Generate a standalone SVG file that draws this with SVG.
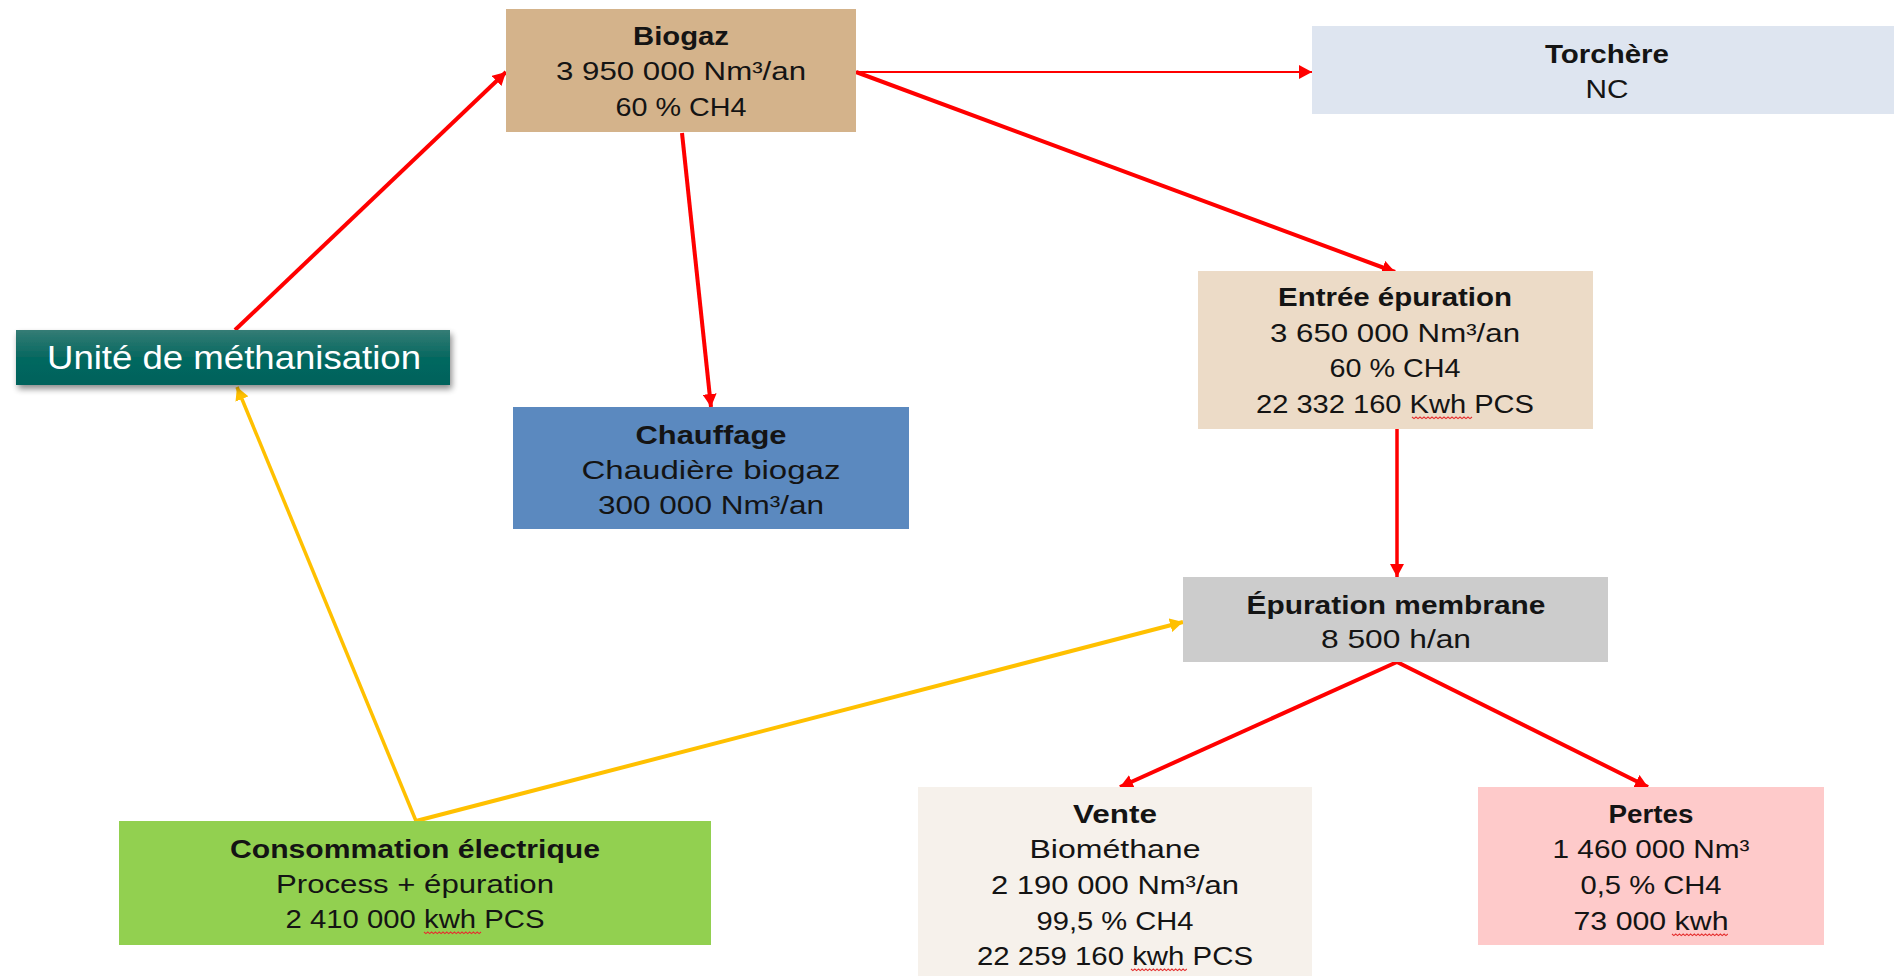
<svg xmlns="http://www.w3.org/2000/svg" xmlns:xlink="http://www.w3.org/1999/xlink" width="1894" height="976" viewBox="0 0 1894 976">
<defs>
<style>
text{font-family:"Liberation Sans",Arial,sans-serif;font-size:25px;fill:#141414;text-anchor:middle}
.t{font-weight:bold}
.w{fill:#ffffff;font-size:33px}
.red{stroke:#FF0000;stroke-width:4;fill:none;marker-end:url(#ar)}
.yel{stroke:#FFC000;stroke-width:4;fill:none;marker-end:url(#ay)}
.sq{stroke:#E53030;stroke-width:1.2;fill:none}
</style>
<marker id="ar" markerUnits="userSpaceOnUse" markerWidth="14" markerHeight="14" refX="13" refY="7" orient="auto"><path d="M0,0 L13,7 L0,14 z" fill="#FF0000"/></marker>
<marker id="ay" markerUnits="userSpaceOnUse" markerWidth="14" markerHeight="14" refX="13" refY="7" orient="auto"><path d="M0,0 L13,7 L0,14 z" fill="#FFC000"/></marker>
<linearGradient id="teal" x1="0" y1="0" x2="0" y2="1"><stop offset="0" stop-color="#357C75"/><stop offset="0.5" stop-color="#066860"/><stop offset="1" stop-color="#00625B"/></linearGradient>
<filter id="sh" x="-10%" y="-30%" width="120%" height="170%"><feGaussianBlur in="SourceAlpha" stdDeviation="3"/><feOffset dx="2" dy="4"/><feComponentTransfer><feFuncA type="linear" slope="0.45"/></feComponentTransfer><feMerge><feMergeNode/><feMergeNode in="SourceGraphic"/></feMerge></filter>
<path id="sqp" class="sq" d="M0,0 l2,1.6 l2,-1.6 l2,1.6 l2,-1.6 l2,1.6 l2,-1.6 l2,1.6 l2,-1.6 l2,1.6 l2,-1.6 l2,1.6 l2,-1.6 l2,1.6 l2,-1.6 l2,1.6 l2,-1.6 l2,1.6 l2,-1.6 l2,1.6 l2,-1.6 l2,1.6 l2,-1.6 l2,1.6 l2,-1.6 l2,1.6 l2,-1.6 l2,1.6 l2,-1.6 l2,1.6 l2,-1.6"/>
</defs>
<rect width="1894" height="976" fill="#ffffff"/>

<g id="connectors">
<line class="red" x1="235" y1="330" x2="506" y2="72"/>
<line class="red" x1="682" y1="133" x2="711" y2="407"/>
<line class="red" style="stroke-width:2" x1="856" y1="72" x2="1312" y2="72"/>
<line class="red" x1="856" y1="72" x2="1395" y2="272"/>
<line class="red" style="stroke-width:3.5" x1="1397" y1="429" x2="1397" y2="577"/>
<line class="red" x1="1397" y1="662" x2="1120" y2="787"/>
<line class="red" x1="1397" y1="662" x2="1648" y2="787"/>
<line class="yel" style="stroke-width:3.5" x1="416" y1="821" x2="237" y2="387"/>
<line class="yel" x1="416" y1="821" x2="1183" y2="622"/>
</g>

<g id="biogaz">
<rect x="506" y="9" width="350" height="123" fill="#D4B38B"/>
<text class="t" x="681" y="45" textLength="96" lengthAdjust="spacingAndGlyphs">Biogaz</text>
<text x="681" y="80" textLength="250" lengthAdjust="spacingAndGlyphs">3 950 000 Nm³/an</text>
<text x="681" y="116" textLength="131" lengthAdjust="spacingAndGlyphs">60 % CH4</text>
</g>

<g id="torchere">
<rect x="1312" y="26" width="582" height="88" fill="#DEE5F0"/>
<text class="t" x="1607" y="63" textLength="124" lengthAdjust="spacingAndGlyphs">Torchère</text>
<text x="1607" y="98" textLength="43" lengthAdjust="spacingAndGlyphs">NC</text>
</g>

<g id="unite">
<rect x="16" y="330" width="434" height="55" fill="url(#teal)" filter="url(#sh)"/>
<text class="w" x="234" y="369" textLength="374" lengthAdjust="spacingAndGlyphs">Unité de méthanisation</text>
</g>

<g id="chauffage">
<rect x="513" y="407" width="396" height="122" fill="#5B89BF"/>
<text class="t" x="711" y="444" textLength="151" lengthAdjust="spacingAndGlyphs">Chauffage</text>
<text x="711" y="479" textLength="259" lengthAdjust="spacingAndGlyphs">Chaudière biogaz</text>
<text x="711" y="514" textLength="226" lengthAdjust="spacingAndGlyphs">300 000 Nm³/an</text>
</g>

<g id="entree">
<rect x="1198" y="271" width="395" height="158" fill="#ECDBC7"/>
<text class="t" x="1395" y="306" textLength="234" lengthAdjust="spacingAndGlyphs">Entrée épuration</text>
<text x="1395" y="342" textLength="250" lengthAdjust="spacingAndGlyphs">3 650 000 Nm³/an</text>
<text x="1395" y="377" textLength="131" lengthAdjust="spacingAndGlyphs">60 % CH4</text>
<text x="1395" y="413" textLength="278" lengthAdjust="spacingAndGlyphs">22 332 160 Kwh PCS</text>
<use xlink:href="#sqp" transform="translate(1412,417)"/>
</g>

<g id="epuration">
<rect x="1183" y="577" width="425" height="85" fill="#CCCCCC"/>
<text class="t" x="1396" y="614" textLength="299" lengthAdjust="spacingAndGlyphs">Épuration membrane</text>
<text x="1396" y="648" textLength="150" lengthAdjust="spacingAndGlyphs">8 500 h/an</text>
</g>

<g id="consommation">
<rect x="119" y="821" width="592" height="124" fill="#92D050"/>
<text class="t" x="415" y="858" textLength="370" lengthAdjust="spacingAndGlyphs">Consommation électrique</text>
<text x="415" y="893" textLength="278" lengthAdjust="spacingAndGlyphs">Process + épuration</text>
<text x="415" y="928" textLength="259" lengthAdjust="spacingAndGlyphs">2 410 000 kwh PCS</text>
<use xlink:href="#sqp" transform="translate(424,932) scale(0.95,1)"/>
</g>

<g id="vente">
<rect x="918" y="787" width="394" height="189" fill="#F6F1EB"/>
<text class="t" x="1115" y="823" textLength="84" lengthAdjust="spacingAndGlyphs">Vente</text>
<text x="1115" y="858" textLength="171" lengthAdjust="spacingAndGlyphs">Biométhane</text>
<text x="1115" y="894" textLength="248" lengthAdjust="spacingAndGlyphs">2 190 000 Nm³/an</text>
<text x="1115" y="930" textLength="157" lengthAdjust="spacingAndGlyphs">99,5 % CH4</text>
<text x="1115" y="965" textLength="276" lengthAdjust="spacingAndGlyphs">22 259 160 kwh PCS</text>
<use xlink:href="#sqp" transform="translate(1131,969) scale(0.93,1)"/>
</g>

<g id="pertes">
<rect x="1478" y="787" width="346" height="158" fill="#FECACA"/>
<text class="t" x="1651" y="823" textLength="85" lengthAdjust="spacingAndGlyphs">Pertes</text>
<text x="1651" y="858" textLength="197" lengthAdjust="spacingAndGlyphs">1 460 000 Nm³</text>
<text x="1651" y="894" textLength="141" lengthAdjust="spacingAndGlyphs">0,5 % CH4</text>
<text x="1651" y="930" textLength="155" lengthAdjust="spacingAndGlyphs">73 000 kwh</text>
<use xlink:href="#sqp" transform="translate(1672,934) scale(0.93,1)"/>
</g>
</svg>
